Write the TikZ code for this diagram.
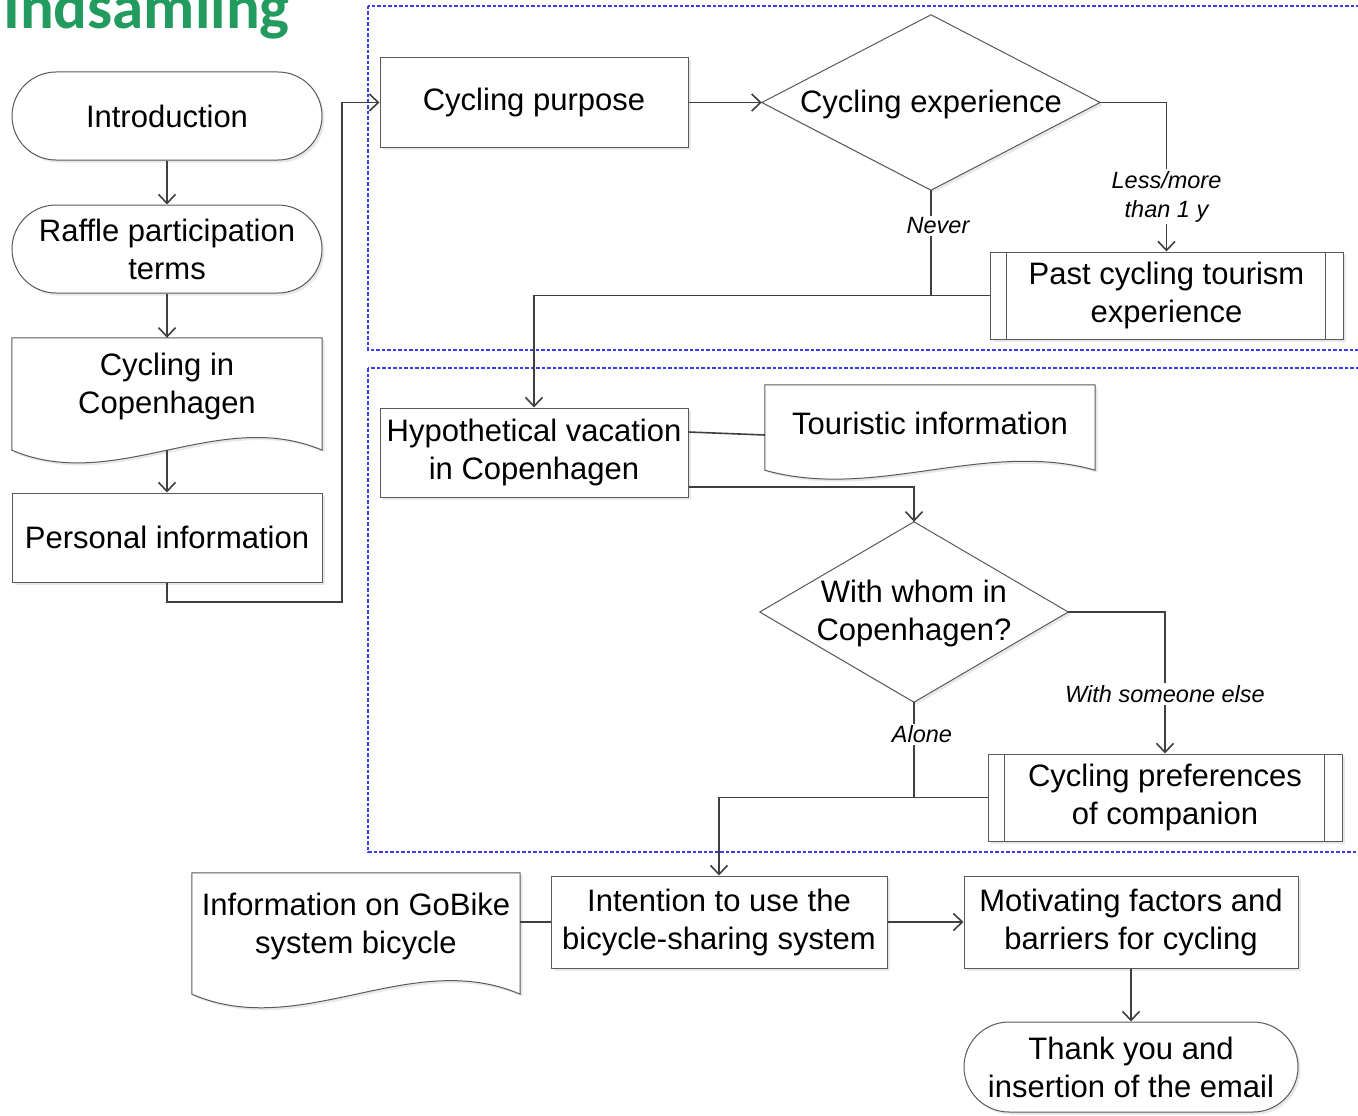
\documentclass[tikz,border=0pt]{standalone}
\usepackage{fontspec}
\setmainfont{Liberation Sans}
\newfontfamily\titlefont{Carlito}
\usetikzlibrary{arrows.meta,calc,shadows}
\definecolor{conncol}{HTML}{3F3F3F}
\definecolor{shapecol}{HTML}{5A5A5A}
\definecolor{dashblue}{RGB}{60,60,245}
\definecolor{titlegreen}{RGB}{35,155,95}
\tikzset{
  shd/.style={general shadow={fill=black!9, shadow xshift=2.5pt, shadow yshift=-2.5pt}},
  basefont/.style={font=\fontsize{31}{38}\selectfont, align=center, text=black},
  shp/.style={draw=shapecol, line width=1pt, fill=white, shd},
  procbox/.style={shp, basefont, rectangle, inner sep=0pt},
  termbox/.style={procbox, rounded corners=44pt},
  predef/.style={procbox, path picture={
      \draw[shapecol, line width=1pt]
        ([xshift=16pt]path picture bounding box.north west) -- ([xshift=16pt]path picture bounding box.south west)
        ([xshift=-18pt]path picture bounding box.north east) -- ([xshift=-18pt]path picture bounding box.south east);}},
  ghost/.style={inner sep=0pt, draw=none, rectangle},
  txt/.style={basefont, inner sep=0pt},
  conn/.style={draw=conncol, line width=1.6pt},
  arr/.style={conn, -{Straight Barb[length=9pt, width=17pt]}},
  lbl/.style={font=\fontsize{23.5}{29}\selectfont\itshape, fill=white, inner sep=2pt, align=center, text=black},
  dashbox/.style={draw=dashblue, line width=1.1pt, dash pattern=on 3.5pt off 2pt},
}
\newcommand\docshape[2]{%
  \draw[shp] (#1.north west) -- (#1.north east) -- (#1.south east)
    .. controls ($(#1.south west)!0.6667!(#1.south east)+(0,-#2)$) and ($(#1.south west)!0.3333!(#1.south east)+(0,#2)$) ..
    (#1.south west) -- cycle;}
\newcommand\diamondshape[1]{%
  \draw[shp] (#1.north) -- (#1.east) -- (#1.south) -- (#1.west) -- cycle;}
\begin{document}
\begin{tikzpicture}[x=1pt, y=-1pt]
\useasboundingbox (0,0) rectangle (1358,1116);
\clip (0,0) rectangle (1358,1116);

% title
\node[font=\titlefont\bfseries\fontsize{63}{70}\selectfont, text=titlegreen, anchor=base west, inner sep=0pt] (title) at (3,29) {Indsamling};

% dashed group frames
\draw[dashbox] (368,6) rectangle (1375,350);
\draw[dashbox] (368,368) rectangle (1375,852);

% left column
\node[termbox, minimum width=310pt, minimum height=88pt] (intro) at (167,116) {Introduction};
\node[termbox, minimum width=310pt, minimum height=88pt] (raffle) at (167,249) {Raffle participation\\terms};
\node[ghost, minimum width=310pt, minimum height=112pt] (cic) at (167,394) {};
\docshape{cic}{44}
\node[txt] (cict) at (167,386) {Cycling in\\Copenhagen};
\node[procbox, minimum width=310pt, minimum height=89pt] (pi) at (167,537.5) {Personal information};
\coordinate (j1) at (342,602);

% upper group
\node[procbox, minimum width=308pt, minimum height=89pt] (purpose) at (534,102.5) {Cycling purpose};
\node[ghost, minimum width=338pt, minimum height=175pt] (exper) at (931,102.5) {};
\diamondshape{exper}
\node[txt] (expert) at (931,104) {Cycling experience};
\node[predef, minimum width=353pt, minimum height=87pt] (past) at (1166.5,295.5) {Past cycling tourism\\experience};

% lower group
\node[procbox, minimum width=308pt, minimum height=89pt] (hyp) at (534,452.5) {Hypothetical vacation\\in Copenhagen};
\node[ghost, minimum width=330pt, minimum height=85pt] (tour) at (930,427.5) {};
\docshape{tour}{31}
\node[txt] (tourt) at (930,423) {Touristic information};
\node[ghost, minimum width=308pt, minimum height=180pt] (whom) at (914,612) {};
\diamondshape{whom}
\node[txt] (whomt) at (914,613) {With whom in\\Copenhagen?};
\node[predef, minimum width=354pt, minimum height=87pt] (comp) at (1165,797.5) {Cycling preferences\\of companion};

% bottom row
\node[ghost, minimum width=328pt, minimum height=121pt] (gobike) at (356,933.5) {};
\docshape{gobike}{47}
\node[txt] (gobiket) at (356,926) {Information on GoBike\\system bicycle};
\node[procbox, minimum width=336pt, minimum height=92pt] (intent) at (719,922) {Intention to use the\\bicycle-sharing system};
\node[procbox, minimum width=334pt, minimum height=92pt] (motiv) at (1131,922) {Motivating factors and\\barriers for cycling};
\node[procbox, rounded corners=45pt, minimum width=334pt, minimum height=90pt] (thanks) at (1131,1067) {Thank you and\\insertion of the email};

% connectors
\draw[arr] (intro) -- (raffle);
\draw[arr] (raffle) -- (cic);
\draw[arr] (cic) -- (pi);
\draw[arr] (pi.south) |- (j1) |- (purpose.west);
\draw[arr] (purpose) -- (exper.west);
\draw[arr] (exper.east) -| (past.north) node[lbl, pos=0.816] {Less/more\\than 1 y};
\draw[conn] (exper.south) -- (exper.south |- past.west) node[lbl, pos=0.34, xshift=7pt] {Never};
\draw[arr] (past.west) -| (hyp.north);
\draw[conn] ([yshift=20.5pt]hyp.east) -- ([yshift=-7.5pt]tour.west);
\draw[arr] ([yshift=-34.5pt]hyp.east) -| (whom.north);
\draw[arr] (whom.east) -| (comp.north) node[lbl, pos=0.79] {With someone else};
\draw[conn] (whom.south) -- (whom.south |- comp.west) node[lbl, pos=0.335, xshift=8pt] {Alone};
\draw[arr] (comp.west) -| (intent.north);
\draw[conn] (gobike.east |- intent.west) -- (intent.west);
\draw[arr] (intent) -- (motiv);
\draw[arr] (motiv) -- (thanks);
\end{tikzpicture}
\end{document}
